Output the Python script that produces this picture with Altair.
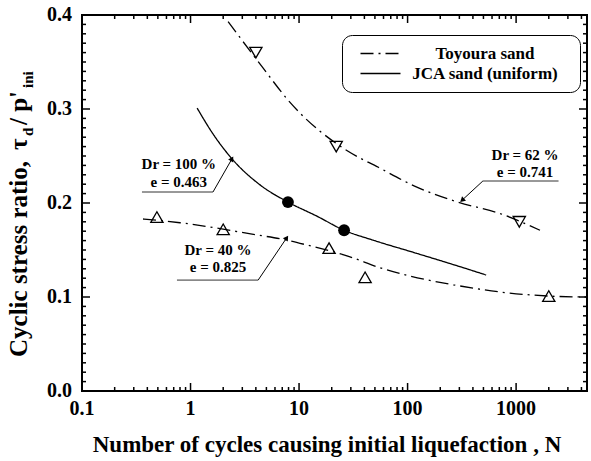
import math
import altair as alt
import pandas as pd

# ---------------- data ----------------
toy62_N = [2.22, 4.56, 8.26, 28.3, 53.8, 116, 272, 743, 1660]
toy62_r = [0.393, 0.345, 0.307, 0.255, 0.238, 0.218, 0.202, 0.188, 0.171]
toy40_N = [0.365, 0.80, 4.1, 7.4, 12.1, 29, 56, 99, 264, 750, 2000, 4400]
toy40_r = [0.183, 0.179, 0.166, 0.161, 0.155, 0.143, 0.131, 0.123, 0.113, 0.105, 0.101, 0.100]
jca_N = [1.15, 1.6, 2.41, 4.4, 7.9, 14.6, 26, 48, 113, 247, 530]
jca_r = [0.301, 0.274, 0.247, 0.219, 0.201, 0.186, 0.171, 0.1605, 0.1475, 0.1355, 0.1234]

toy62_pts_N = [4, 22, 1070]
toy62_pts_r = [0.36, 0.26, 0.18]
toy40_pts_N = [0.49, 2.0, 18.9, 40.6, 2000]
toy40_pts_r = [0.185, 0.172, 0.152, 0.121, 0.101]
jca_pts_N = [7.9, 26]
jca_pts_r = [0.201, 0.171]

sand_names = ["Toyoura sand", "JCA sand (uniform)"]

ann_line1 = ["Dr = 100 %", "Dr = 62 %", "Dr = 40 %"]
ann_line2 = ["e = 0.463", "e = 0.741", "e = 0.825"]
ann_text_N = [0.78, 1210, 1.79]
ann_row1_r = [0.2415, 0.251, 0.150]
ann_row2_r = [0.222, 0.233, 0.132]
ann_under_r = [0.2117, 0.2234, 0.118]
ann_under_N1 = [0.357, 494, 0.75]
ann_under_N2 = [1.61, 2460, 4.2]
ann_start_N = [1.61, 494, 4.2]
ann_tip_N = [2.41, 318, 7.7]
ann_tip_r = [0.247, 0.203, 0.163]
ann_tip_angle = [30, 228, 34]

# axis ticks and tick labels
x_major = [0.1, 1, 10, 100, 1000]
x_major_labels = ["0.1", "1", "10", "100", "1000"]
x_minor = [0.2, 0.3, 0.4, 0.5, 0.6, 0.7, 0.8, 0.9,
           2, 3, 4, 5, 6, 7, 8, 9,
           20, 30, 40, 50, 60, 70, 80, 90,
           200, 300, 400, 500, 600, 700, 800, 900,
           2000, 3000, 4000]
y_major = [0.0, 0.1, 0.2, 0.3, 0.4]
y_major_labels = ["0.0", "0.1", "0.2", "0.3", "0.4"]
y_minor = [round(i * 0.01, 2) for i in range(1, 40) if i % 10 != 0]

x_title = "Number of cycles causing initial liquefaction , N"

# ---------------- layout / scales ----------------
FONT = "Liberation Serif"
W, H = 505, 376
X_DOM = [0.1, 4500]
Y_DOM = [0.0, 0.4]
xs = alt.Scale(type="log", domain=X_DOM, nice=False)
ys = alt.Scale(domain=Y_DOM, nice=False, zero=False)

# ---------------- tables ----------------
curves = []
for name, sand, Ns, rs in [("62", sand_names[0], toy62_N, toy62_r),
                           ("40", sand_names[0], toy40_N, toy40_r),
                           ("jca", sand_names[1], jca_N, jca_r)]:
    for i, (n, r) in enumerate(zip(Ns, rs)):
        curves.append({"curve": name, "sand": sand, "N": n, "ratio": r, "idx": i})
curves_df = pd.DataFrame(curves)

t62_df = pd.DataFrame({"N": toy62_pts_N, "ratio": toy62_pts_r})
t40_df = pd.DataFrame({"N": toy40_pts_N, "ratio": toy40_pts_r})
jca_df = pd.DataFrame({"N": jca_pts_N, "ratio": jca_pts_r})

text_rows = []
for i in range(3):
    text_rows.append({"N": ann_text_N[i], "ratio": ann_row1_r[i], "label": ann_line1[i]})
    text_rows.append({"N": ann_text_N[i], "ratio": ann_row2_r[i], "label": ann_line2[i]})
text_df = pd.DataFrame(text_rows)

ann_df = pd.DataFrame({
    "N1": ann_under_N1, "N2": ann_under_N2, "ur": ann_under_r,
    "Ns": ann_start_N, "Nt": ann_tip_N, "rt": ann_tip_r, "angle": ann_tip_angle,
})

xmaj_df = pd.DataFrame({"N": x_major, "label": x_major_labels})
ymaj_df = pd.DataFrame({"ratio": y_major, "label": y_major_labels})

# tick segments expressed in data units (tick length converted through the scale extents)
decades = math.log10(X_DOM[1] / X_DOM[0])


def y_len(px):
    return px * (Y_DOM[1] - Y_DOM[0]) / H


def x_fac(px):
    return 10 ** (px * decades / W)


xt_rows = []
for vals, px in [(x_major, 8), (x_minor, 4)]:
    for v in vals:
        xt_rows.append({"N": v, "a": Y_DOM[0], "b": Y_DOM[0] + y_len(px)})
        xt_rows.append({"N": v, "a": Y_DOM[1], "b": Y_DOM[1] - y_len(px)})
xt_df = pd.DataFrame(xt_rows)

yt_rows = []
for vals, px in [(y_major, 8), (y_minor, 4)]:
    for v in vals:
        yt_rows.append({"ratio": v, "a": X_DOM[0], "b": X_DOM[0] * x_fac(px)})
        yt_rows.append({"ratio": v, "a": X_DOM[1], "b": X_DOM[1] / x_fac(px)})
yt_df = pd.DataFrame(yt_rows)

X = alt.X("N:Q", scale=xs, axis=None)
Y = alt.Y("ratio:Q", scale=ys, axis=None)

lines = alt.Chart(curves_df).mark_line(color="black", strokeWidth=1.3, interpolate="monotone").encode(
    x=X, y=Y, detail="curve:N", order="idx:Q",
    strokeDash=alt.StrokeDash(
        "sand:N",
        scale=alt.Scale(domain=sand_names, range=[[13, 5, 2, 5], [1, 0]]),
        legend=alt.Legend(title="\u2003", titleOrient="right", titleFontSize=10, titlePadding=12,
                          orient="none", legendX=260, legendY=20,
                          strokeColor="black", cornerRadius=10, padding=10, fillColor="white",
                          labelFont=FONT, labelFontSize=17, labelFontWeight="bold",
                          labelColor="black", labelAlign="center", labelOffset=96,
                          labelLimit=300, symbolType="M-4,0L4,0", symbolSize=100,
                          symbolStrokeWidth=1.5, symbolStrokeColor="black",
                          symbolOffset=20, rowPadding=2),
    ),
)

# inward tick marks on all four sides
x_ticks = alt.Chart(xt_df).mark_rule(color="black", strokeWidth=1.5).encode(
    x=X, y=alt.Y("a:Q", scale=ys, axis=None), y2="b:Q")
y_ticks = alt.Chart(yt_df).mark_rule(color="black", strokeWidth=1.5).encode(
    y=Y, x=alt.X("a:Q", scale=xs, axis=None), x2="b:Q")

# tick labels, positioned by the scales
x_labels = alt.Chart(xmaj_df).mark_text(
    font=FONT, fontSize=20, fontWeight="bold", color="black",
    align="center", baseline="alphabetic").encode(
    x=X, y=alt.value(H + 24), text="label:N")
y_labels = alt.Chart(ymaj_df).mark_text(
    font=FONT, fontSize=20, fontWeight="bold", color="black",
    align="right", baseline="middle").encode(
    y=Y, x=alt.value(-10), text="label:N")

pts62 = alt.Chart(t62_df).mark_point(shape="triangle-down", filled=False, size=150,
                                     color="black", strokeWidth=1.3, opacity=1).encode(x=X, y=Y)
pts40 = alt.Chart(t40_df).mark_point(shape="triangle-up", filled=False, size=150,
                                     color="black", strokeWidth=1.3, opacity=1).encode(x=X, y=Y)
ptsj = alt.Chart(jca_df).mark_point(shape="circle", filled=True, size=140,
                                    color="black", opacity=1).encode(x=X, y=Y)

ann_text = alt.Chart(text_df).mark_text(font=FONT, fontSize=15, fontWeight="bold",
                                        color="black", align="center", baseline="middle").encode(
    x=X, y=Y, text="label:N")

underline = alt.Chart(ann_df).mark_rule(color="#333333", strokeWidth=1).encode(
    x=alt.X("N1:Q", scale=xs, axis=None), x2="N2:Q",
    y=alt.Y("ur:Q", scale=ys, axis=None))
leader = alt.Chart(ann_df).mark_rule(color="black", strokeWidth=1).encode(
    x=alt.X("Ns:Q", scale=xs, axis=None), x2="Nt:Q",
    y=alt.Y("ur:Q", scale=ys, axis=None), y2="rt:Q")
heads = alt.Chart(ann_df).mark_point(shape="triangle-up", filled=True, size=35,
                                     color="black", opacity=1).encode(
    x=alt.X("Nt:Q", scale=xs, axis=None),
    y=alt.Y("rt:Q", scale=ys, axis=None),
    angle=alt.Angle("angle:Q", scale=None))


def title_piece(text, x, y, size, angle=270):
    return alt.Chart(alt.Data(values=[{}])).mark_text(
        text=text, angle=angle, align="left" if angle else "center", baseline="alphabetic",
        font=FONT, fontWeight="bold", fontSize=size, color="black").encode(
        x=alt.value(x), y=alt.value(y))


titles = [
    title_piece(x_title, 245, H + 61, 23, angle=0),
    title_piece("Cyclic stress ratio,", -55, 342, 25),
    title_piece("τ", -55, 135, 25),
    title_piece("d", -49, 121, 15),
    title_piece("/ p'", -55, 110, 25),
    title_piece("ini", -49, 73, 15),
]

chart = alt.layer(
    lines, x_ticks, y_ticks, x_labels, y_labels, pts62, pts40, ptsj, underline, leader, heads,
    ann_text, *titles
).properties(
    width=W, height=H,
    autosize=alt.AutoSizeParams(type="none"),
    padding={"left": 82, "top": 15, "right": 4, "bottom": 70},
    background="white",
).configure_view(stroke="black", strokeWidth=2)

chart.save("out.html", embed_options={"renderer": "svg", "actions": False})
